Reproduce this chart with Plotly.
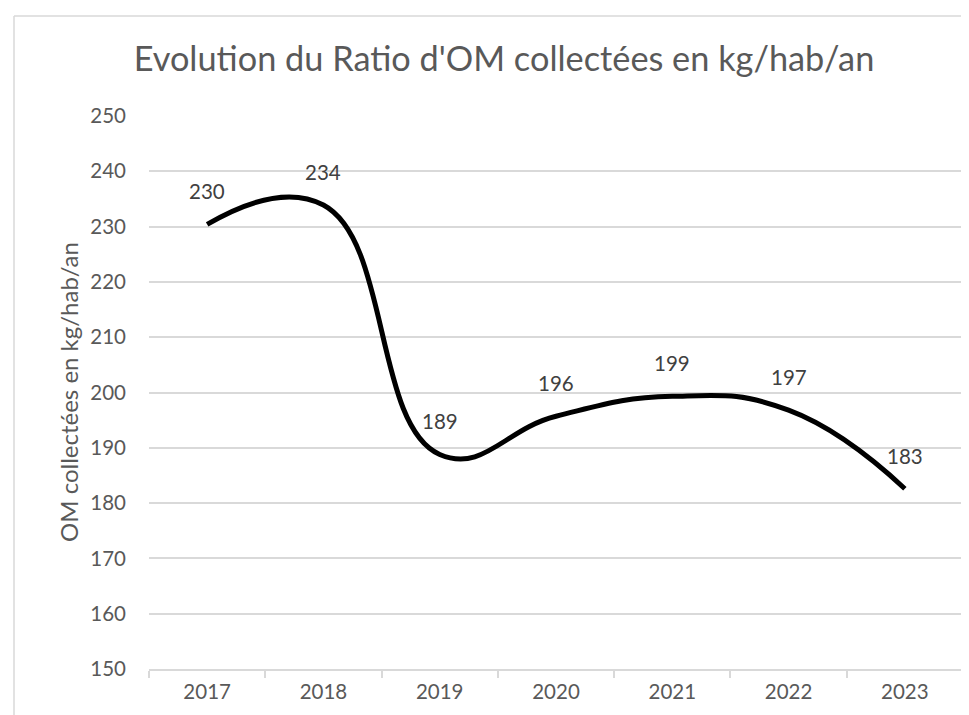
import plotly.graph_objects as go

# ---- data ----
years = ["2017", "2018", "2019", "2020", "2021", "2022", "2023"]
ratio = [230.4, 233.9, 188.8, 195.7, 199.3, 196.8, 182.6]
value_labels = ["230", "234", "189", "196", "199", "197", "183"]
y_tick_values = [150, 160, 170, 180, 190, 200, 210, 220, 230, 240, 250]
chart_title = "Evolution du Ratio d'OM collectées en kg/hab/an"
y_axis_title = "OM collectées en kg/hab/an"

FONT = "Lato, 'Open Sans', sans-serif"
GRID = "#d9d9d9"
TICK_COLOR = "#595959"

W, H = 969, 715
L, R, T, B = 141, 14, 108, 54
PW, PH = W - L - R, H - T - B


def px_to_paper_x(px):
    return (px - L) / PW


def px_to_paper_y(py):
    return (H - B - py) / PH


fig = go.Figure(
    go.Scatter(
        x=years,
        y=ratio,
        mode="lines",
        line=dict(color="black", width=5, shape="spline", smoothing=1.3),
        hoverinfo="skip",
        showlegend=False,
    )
)

# data labels (category index used as x so "2017" is not read as a number)
for i, (val, lab) in enumerate(zip(ratio, value_labels)):
    fig.add_annotation(
        x=i, y=val, xref="x", yref="y", text=lab, showarrow=False, yshift=33,
        font=dict(family=FONT, size=20.5, color="#404040"),
    )

# y-axis title
fig.add_annotation(
    xref="paper", yref="paper",
    x=px_to_paper_x(60), y=px_to_paper_y(384),
    text=y_axis_title, textangle=-90, showarrow=False,
    xanchor="center", yanchor="middle",
    font=dict(family=FONT, size=24, color=TICK_COLOR),
)

# chart-area border (left and top edges visible in the crop)
bx = px_to_paper_x(6)
by = px_to_paper_y(8)
fig.add_shape(type="line", xref="paper", yref="paper", x0=bx, x1=bx, y0=-0.3, y1=by,
              line=dict(color=GRID, width=1.5))
fig.add_shape(type="line", xref="paper", yref="paper", x0=bx, x1=1.2, y0=by, y1=by,
              line=dict(color=GRID, width=1.5))

fig.update_layout(
    width=W, height=H,
    margin=dict(l=L, r=R, t=T, b=B),
    paper_bgcolor="white",
    plot_bgcolor="white",
    title=dict(
        text=chart_title,
        x=px_to_paper_x(496), xref="paper", xanchor="center",
        y=1 - 51 / H, yref="container", yanchor="middle",
        font=dict(family=FONT, size=34.3, color=TICK_COLOR),
    ),
    xaxis=dict(
        type="category",
        range=[-0.5, len(years) - 0.5],
        showgrid=False,
        showline=True, linecolor=GRID, linewidth=1.5,
        ticks="outside", tickson="boundaries", ticklen=7, tickcolor=GRID, tickwidth=1.5,
        tickfont=dict(family=FONT, size=20.5, color=TICK_COLOR),
        ticklabelstandoff=4,
        zeroline=False,
    ),
    yaxis=dict(
        range=[150, 250],
        tickvals=y_tick_values,
        showgrid=True, gridcolor=GRID, gridwidth=1.5,
        showline=False, zeroline=False,
        ticks="",
        tickfont=dict(family=FONT, size=20.5, color=TICK_COLOR),
        ticklabelstandoff=22,
    ),
)

fig.write_html("out.html")
